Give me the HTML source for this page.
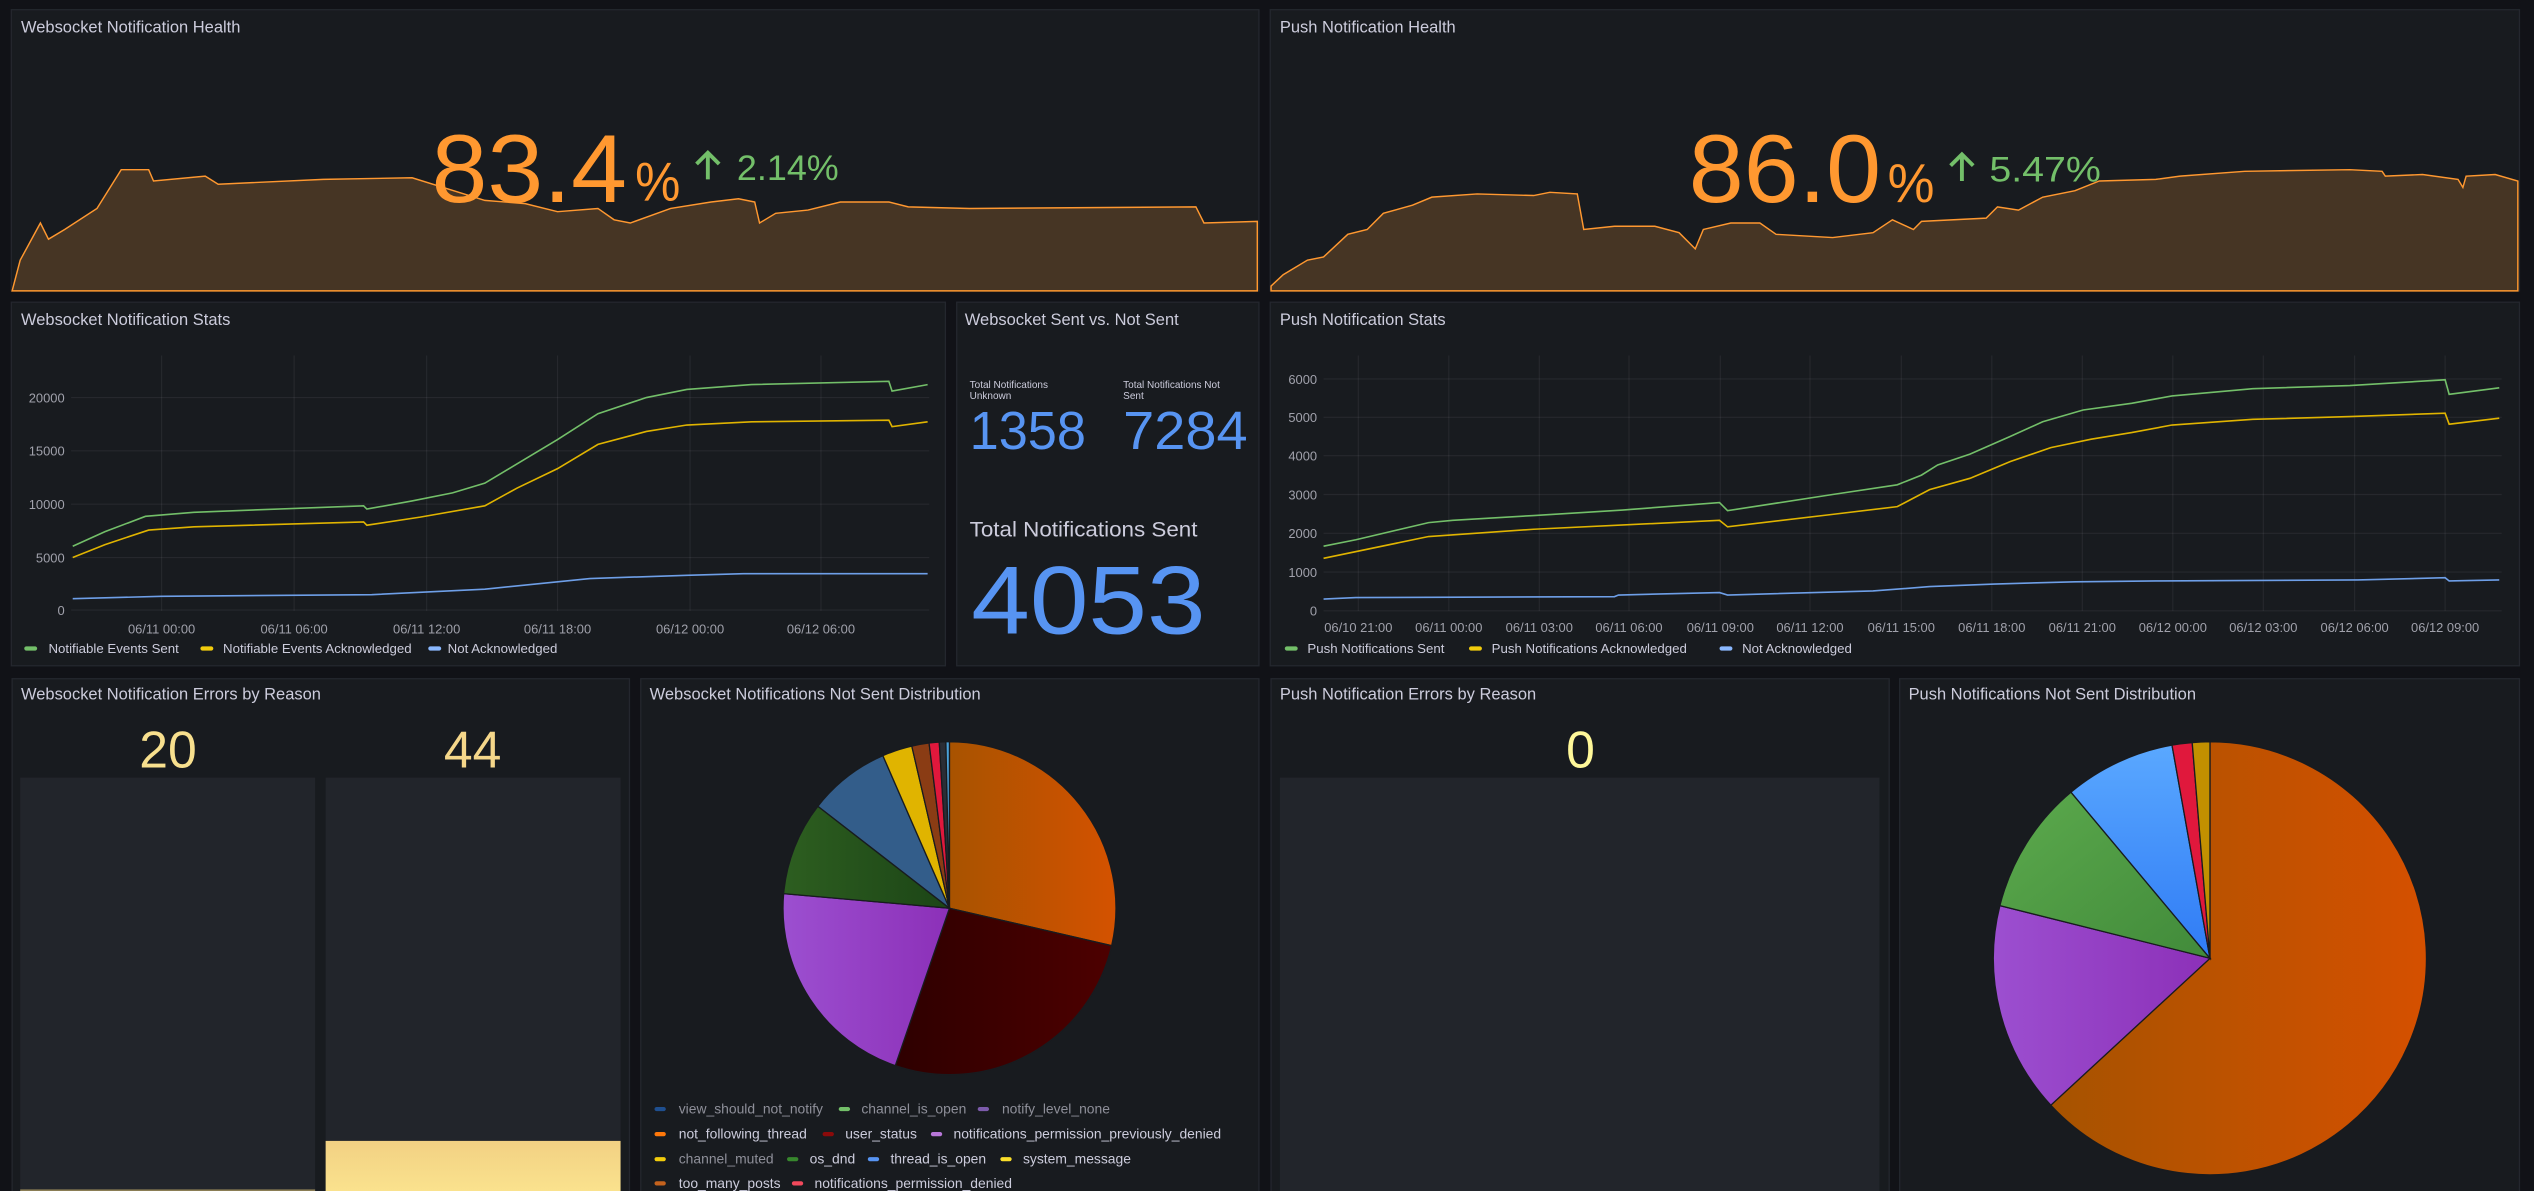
<!DOCTYPE html>
<html><head><meta charset="utf-8"><style>
html,body{margin:0;padding:0;background:#111217;overflow:hidden}
svg{display:block}
text{font-family:"Liberation Sans",sans-serif}
.t{fill:#ccccdc;font-size:10.2px}
.ax{fill:#a0a1ab;font-size:8px}
.lg{fill:#ccccdc;font-size:8.2px}
.pl{font-size:8.6px;fill:#ccccdc}
.dim{fill:#8e8f99}
.g{stroke:rgba(204,204,220,0.08);stroke-width:0.7}
</style></head><body>
<svg width="2534" height="1191" viewBox="0 0 1568 737" preserveAspectRatio="none" xmlns="http://www.w3.org/2000/svg">
<defs>
<linearGradient id="og" x1="0" y1="0" x2="1" y2="0"><stop offset="0" stop-color="#a85300"/><stop offset="1" stop-color="#d45200"/></linearGradient>
<linearGradient id="og2" x1="0" y1="0" x2="1" y2="0"><stop offset="0" stop-color="#a65300"/><stop offset="1" stop-color="#d55000"/></linearGradient>
<linearGradient id="dr" x1="0" y1="0" x2="1" y2="0"><stop offset="0" stop-color="#2e0000"/><stop offset="1" stop-color="#4d0000"/></linearGradient>
<linearGradient id="pu" x1="0" y1="0" x2="1" y2="0"><stop offset="0" stop-color="#9c4fd0"/><stop offset="1" stop-color="#8c30b8"/></linearGradient>
<linearGradient id="gr" x1="0" y1="0" x2="1" y2="0"><stop offset="0" stop-color="#2d5e20"/><stop offset="1" stop-color="#1c4516"/></linearGradient>
<linearGradient id="gr2" x1="0" y1="0" x2="1" y2="1"><stop offset="0" stop-color="#5caa4d"/><stop offset="1" stop-color="#418a3a"/></linearGradient>
<linearGradient id="bl2" x1="0" y1="0" x2="0" y2="1"><stop offset="0" stop-color="#5aa8ff"/><stop offset="1" stop-color="#2f7bf5"/></linearGradient>
<linearGradient id="yb" x1="0" y1="0" x2="0" y2="1"><stop offset="0" stop-color="#f2d183"/><stop offset="1" stop-color="#fbe48f"/></linearGradient>
</defs>
<rect width="1568" height="737" fill="#111217"/>
<g fill="#181b1f" stroke="#24272e" stroke-width="0.8">
<rect x="7" y="6" width="772" height="174"/>
<rect x="786" y="6" width="773" height="174"/>
<rect x="7" y="187" width="578" height="225"/>
<rect x="592" y="187" width="187" height="225"/>
<rect x="786" y="187" width="773" height="225"/>
<rect x="7.5" y="420" width="382" height="330"/>
<rect x="396.5" y="420" width="382.5" height="330"/>
<rect x="786.5" y="420" width="382.5" height="330"/>
<rect x="1175.5" y="420" width="383.5" height="330"/>
</g>
<text class="t" x="13" y="20">Websocket Notification Health</text>
<polygon fill="#463524" stroke="#ff9830" stroke-width="0.9" points="7.5,180 12.5,161 25,138 30,148 40,142 60,129 75,105 92,105 95,112 127,109 135,114 200,111 255,110 300,124 325,126 345,131 370,129 380,136 390,138 415,129 440,125 457,123 467,125 470,138 480,132 500,130 520,125 550,125 562,128 600,129 740,128 745,138 778,137 778,180"/>
<text x="267" y="125" fill="#ff9830" font-size="60" textLength="121" lengthAdjust="spacingAndGlyphs">83.4</text>
<text x="393" y="124" fill="#ff9830" font-size="34" textLength="28" lengthAdjust="spacingAndGlyphs">%</text>
<path d="M438,111 V95 M431,101.5 L438,94.5 L445,101.5" stroke="#73bf69" stroke-width="2.4" fill="none"/>
<text x="456" y="111.5" fill="#73bf69" font-size="22" textLength="63" lengthAdjust="spacingAndGlyphs">2.14%</text>
<text class="t" x="792" y="20">Push Notification Health</text>
<polygon fill="#463524" stroke="#ff9830" stroke-width="0.9" points="786.5,177 794,170 809,161 819,159 834,145 846,142 856,132 874,127 886,122 914,120 949,121 959,119 976,120 980,142 999,140 1024,140 1039,144 1049,154 1054,142 1071,138 1089,138 1099,145 1134,147 1159,144 1171,136 1184,142 1189,137 1229,135 1236,128 1249,130 1264,122 1284,118 1299,112 1334,111 1349,109 1389,106 1454,105 1474,106 1476,109 1499,108 1521,111 1524,116 1526,109 1544,108 1558,112 1558,180 786.5,180"/>
<text x="1045" y="125" fill="#ff9830" font-size="60" textLength="119" lengthAdjust="spacingAndGlyphs">86.0</text>
<text x="1168" y="125" fill="#ff9830" font-size="34" textLength="29" lengthAdjust="spacingAndGlyphs">%</text>
<path d="M1214,112 V96 M1207,102.5 L1214,95.5 L1221,102.5" stroke="#73bf69" stroke-width="2.4" fill="none"/>
<text x="1231" y="112.4" fill="#73bf69" font-size="22" textLength="69" lengthAdjust="spacingAndGlyphs">5.47%</text>
<text class="t" x="13" y="201">Websocket Notification Stats</text>
<g class="g">
<line x1="44" y1="377.5" x2="575" y2="377.5"/><line x1="44" y1="345" x2="575" y2="345"/><line x1="44" y1="312" x2="575" y2="312"/><line x1="44" y1="279" x2="575" y2="279"/><line x1="44" y1="246" x2="575" y2="246"/>
<line x1="100" y1="220" x2="100" y2="378"/><line x1="182" y1="220" x2="182" y2="378"/><line x1="264" y1="220" x2="264" y2="378"/><line x1="345" y1="220" x2="345" y2="378"/><line x1="427" y1="220" x2="427" y2="378"/><line x1="508" y1="220" x2="508" y2="378"/>
</g>
<g class="ax" text-anchor="end">
<text x="40" y="380.5">0</text><text x="40" y="348">5000</text><text x="40" y="315">10000</text><text x="40" y="282">15000</text><text x="40" y="249">20000</text>
</g>
<g class="ax" text-anchor="middle">
<text x="100" y="392">06/11 00:00</text><text x="182" y="392">06/11 06:00</text><text x="264" y="392">06/11 12:00</text><text x="345" y="392">06/11 18:00</text><text x="427" y="392">06/12 00:00</text><text x="508" y="392">06/12 06:00</text>
</g>
<polyline fill="none" stroke="#73bf69" stroke-width="1" points="45,338 65,329 90,319.5 120,317 225,313 227,315 255,310 280,305 300,299 320,287 345,272 370,256 400,246 425,241 465,238 550,236 552,242 574,238"/>
<polyline fill="none" stroke="#e0b400" stroke-width="1" points="45,345 65,337 92,328 120,326 225,323 227,325 260,320 300,313 320,302 345,290 370,275 400,267 425,263 465,261 550,260 552,264 574,261"/>
<polyline fill="none" stroke="#6e9fe8" stroke-width="1" points="45,370.5 100,369 230,368 300,364.6 365,358 425,356 460,355 574,355"/>
<rect x="15" y="400" width="8" height="2.6" rx="1.3" fill="#73bf69"/><text class="lg" x="30" y="404">Notifiable Events Sent</text>
<rect x="124" y="400" width="8" height="2.6" rx="1.3" fill="#f2cc0c"/><text class="lg" x="138" y="404">Notifiable Events Acknowledged</text>
<rect x="265" y="400" width="8" height="2.6" rx="1.3" fill="#8ab8ff"/><text class="lg" x="277" y="404">Not Acknowledged</text>
<text class="t" x="597" y="201">Websocket Sent vs. Not Sent</text>
<text x="600" y="240" fill="#ccccdc" font-size="6.2">Total Notifications</text>
<text x="600" y="247" fill="#ccccdc" font-size="6.2">Unknown</text>
<text x="695" y="240" fill="#ccccdc" font-size="6.2">Total Notifications Not</text>
<text x="695" y="247" fill="#ccccdc" font-size="6.2">Sent</text>
<text x="600" y="278" fill="#5794f2" font-size="33" textLength="72" lengthAdjust="spacingAndGlyphs">1358</text>
<text x="695" y="278" fill="#5794f2" font-size="33" textLength="77" lengthAdjust="spacingAndGlyphs">7284</text>
<text x="600" y="332" fill="#ccccdc" font-size="13" textLength="141" lengthAdjust="spacingAndGlyphs">Total Notifications Sent</text>
<text x="601" y="392" fill="#5794f2" font-size="60" textLength="145" lengthAdjust="spacingAndGlyphs">4053</text>
<text class="t" x="792" y="201">Push Notification Stats</text>
<g class="g">
<line x1="819" y1="378" x2="1548" y2="378"/><line x1="819" y1="354" x2="1548" y2="354"/><line x1="819" y1="330" x2="1548" y2="330"/><line x1="819" y1="306" x2="1548" y2="306"/><line x1="819" y1="282" x2="1548" y2="282"/><line x1="819" y1="258.2" x2="1548" y2="258.2"/><line x1="819" y1="234.5" x2="1548" y2="234.5"/>
<line x1="840.5" y1="220" x2="840.5" y2="378"/><line x1="896.5" y1="220" x2="896.5" y2="378"/><line x1="952.5" y1="220" x2="952.5" y2="378"/><line x1="1008" y1="220" x2="1008" y2="378"/><line x1="1064.5" y1="220" x2="1064.5" y2="378"/><line x1="1120" y1="220" x2="1120" y2="378"/><line x1="1176.5" y1="220" x2="1176.5" y2="378"/><line x1="1232.5" y1="220" x2="1232.5" y2="378"/><line x1="1288.5" y1="220" x2="1288.5" y2="378"/><line x1="1344.5" y1="220" x2="1344.5" y2="378"/><line x1="1400.5" y1="220" x2="1400.5" y2="378"/><line x1="1457" y1="220" x2="1457" y2="378"/><line x1="1513" y1="220" x2="1513" y2="378"/>
</g>
<g class="ax" text-anchor="end">
<text x="815" y="381">0</text><text x="815" y="357">1000</text><text x="815" y="333">2000</text><text x="815" y="309">3000</text><text x="815" y="285">4000</text><text x="815" y="261.2">5000</text><text x="815" y="237.5">6000</text>
</g>
<g class="ax" text-anchor="middle">
<text x="840.5" y="391">06/10 21:00</text><text x="896.5" y="391">06/11 00:00</text><text x="952.5" y="391">06/11 03:00</text><text x="1008" y="391">06/11 06:00</text><text x="1064.5" y="391">06/11 09:00</text><text x="1120" y="391">06/11 12:00</text><text x="1176.5" y="391">06/11 15:00</text><text x="1232.5" y="391">06/11 18:00</text><text x="1288.5" y="391">06/11 21:00</text><text x="1344.5" y="391">06/12 00:00</text><text x="1400.5" y="391">06/12 03:00</text><text x="1457" y="391">06/12 06:00</text><text x="1513" y="391">06/12 09:00</text>
</g>
<polyline fill="none" stroke="#73bf69" stroke-width="1" points="819,338 839,334 884,323.4 899,322 949,319 1004,315.6 1064,311 1069,316 1134,306 1174,300 1189,294 1199,287.7 1219,281 1244,270 1264,261 1289,253.7 1319,249.6 1344,245 1394,240.5 1454,238.6 1513,235 1515.5,244 1546.5,240"/>
<polyline fill="none" stroke="#e0b400" stroke-width="1" points="819,345.5 884,332 949,327.5 1064,322 1069,326 1134,318.3 1174,313.5 1194,303 1219,296 1244,285.6 1269,277 1294,271.8 1319,267.7 1344,263 1394,259.5 1454,257.8 1513,255.7 1515.5,262.5 1546.5,258.8"/>
<polyline fill="none" stroke="#6e9fe8" stroke-width="1" points="819,370.7 839,369.8 999,369.2 1001.5,368.2 1064,366.7 1069,368.2 1159,365.7 1194,363 1234,361.4 1284,360 1334,359.5 1459,358.9 1513,357.5 1515.5,359.5 1546.5,358.9"/>
<rect x="795" y="400" width="8" height="2.6" rx="1.3" fill="#73bf69"/><text class="lg" x="809" y="404">Push Notifications Sent</text>
<rect x="909" y="400" width="8" height="2.6" rx="1.3" fill="#f2cc0c"/><text class="lg" x="923" y="404">Push Notifications Acknowledged</text>
<rect x="1064" y="400" width="8" height="2.6" rx="1.3" fill="#8ab8ff"/><text class="lg" x="1078" y="404">Not Acknowledged</text>
<text class="t" x="13" y="433">Websocket Notification Errors by Reason</text>
<text x="104" y="475" text-anchor="middle" fill="#f8e08e" font-size="32">20</text>
<text x="292.5" y="475" text-anchor="middle" fill="#f5d78a" font-size="32">44</text>
<rect x="12.5" y="481.2" width="182.5" height="260" fill="#22252b"/>
<rect x="201.5" y="481.2" width="182.5" height="260" fill="#22252b"/>
<rect x="201.5" y="706" width="182.5" height="35" fill="url(#yb)"/>
<rect x="12.5" y="736" width="182.5" height="1" fill="#8a7d55"/>
<text class="t" x="402" y="433">Websocket Notifications Not Sent Distribution</text>
<g stroke="#181b1f" stroke-width="0.8">
<path d="M587.5,562 L587.5,459 A103,103 0 0 1 687.9,585.2 Z" fill="url(#og)"/>
<path d="M587.5,562 L687.9,585.2 A103,103 0 0 1 554,659.4 Z" fill="url(#dr)"/>
<path d="M587.5,562 L554,659.4 A103,103 0 0 1 484.9,553 Z" fill="url(#pu)"/>
<path d="M587.5,562 L484.9,553 A103,103 0 0 1 506.1,498.9 Z" fill="url(#gr)"/>
<path d="M587.5,562 L506.1,498.9 A103,103 0 0 1 546.3,467.6 Z" fill="#335d8a"/>
<path d="M587.5,562 L546.3,467.6 A103,103 0 0 1 564.2,461.7 Z" fill="#e0b400"/>
<path d="M587.5,562 L564.2,461.7 A103,103 0 0 1 574.9,459.8 Z" fill="#8a3c14"/>
<path d="M587.5,562 L574.9,459.8 A103,103 0 0 1 581.2,459.2 Z" fill="#e0183c"/>
<path d="M587.5,562 L581.2,459.2 A103,103 0 0 1 585.3,459 Z" fill="#2a2d35"/>
<path d="M587.5,562 L585.3,459 A103,103 0 0 1 587.5,459 Z" fill="#4aa0d8"/>
</g>
<g class="pl">
<rect x="405" y="685" width="7" height="2.6" rx="1.3" fill="#1f4f8f"/><text x="420" y="689" class="pl dim">view_should_not_notify</text>
<rect x="519" y="685" width="7" height="2.6" rx="1.3" fill="#73bf69"/><text x="533" y="689" class="pl dim">channel_is_open</text>
<rect x="605" y="685" width="7" height="2.6" rx="1.3" fill="#7c5bab"/><text x="620" y="689" class="pl dim">notify_level_none</text>
<rect x="405" y="700.5" width="7" height="2.6" rx="1.3" fill="#ff780a"/><text x="420" y="704.5">not_following_thread</text>
<rect x="509" y="700.5" width="7" height="2.6" rx="1.3" fill="#8b0a0a"/><text x="523" y="704.5">user_status</text>
<rect x="576" y="700.5" width="7" height="2.6" rx="1.3" fill="#b877d9"/><text x="590" y="704.5">notifications_permission_previously_denied</text>
<rect x="405" y="716" width="7" height="2.6" rx="1.3" fill="#f2cc0c"/><text x="420" y="720" class="pl dim">channel_muted</text>
<rect x="487" y="716" width="7" height="2.6" rx="1.3" fill="#37872d"/><text x="501" y="720">os_dnd</text>
<rect x="537" y="716" width="7" height="2.6" rx="1.3" fill="#5794f2"/><text x="551" y="720">thread_is_open</text>
<rect x="619" y="716" width="7" height="2.6" rx="1.3" fill="#fade2a"/><text x="633" y="720">system_message</text>
<rect x="405" y="731" width="7" height="2.6" rx="1.3" fill="#c4621d"/><text x="420" y="735">too_many_posts</text>
<rect x="490" y="731" width="7" height="2.6" rx="1.3" fill="#f2495c"/><text x="504" y="735">notifications_permission_denied</text>
</g>
<text class="t" x="792" y="433">Push Notification Errors by Reason</text>
<text x="978" y="475" text-anchor="middle" fill="#fff899" font-size="32">0</text>
<rect x="792" y="481.2" width="371" height="260" fill="#22252b"/>
<text class="t" x="1181" y="433">Push Notifications Not Sent Distribution</text>
<g stroke="#181b1f" stroke-width="0.8">
<path d="M1367.5,593 L1367.5,459 A134,134 0 1 1 1269,683.9 Z" fill="url(#og2)"/>
<path d="M1367.5,593 L1269,683.9 A134,134 0 0 1 1237.5,560.4 Z" fill="url(#pu)"/>
<path d="M1367.5,593 L1237.5,560.4 A134,134 0 0 1 1281.5,490.2 Z" fill="url(#gr2)"/>
<path d="M1367.5,593 L1281.5,490.2 A134,134 0 0 1 1344,461.1 Z" fill="url(#bl2)"/>
<path d="M1367.5,593 L1344,461.1 A134,134 0 0 1 1356.5,459.5 Z" fill="#e0183c"/>
<path d="M1367.5,593 L1356.5,459.5 A134,134 0 0 1 1367.5,459 Z" fill="#c29000"/>
</g>
</svg>
</body></html>
